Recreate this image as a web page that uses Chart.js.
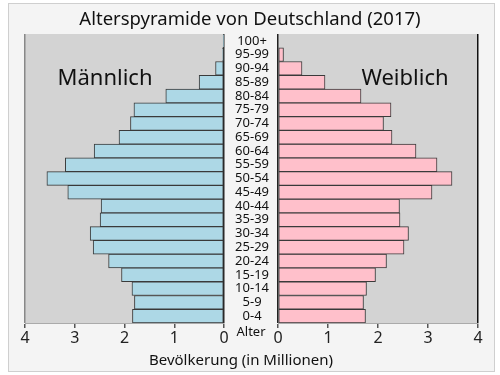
<!DOCTYPE html>
<html lang="de">
<head>
    <meta charset="UTF-8">
    <title>Alterspyramide von Deutschland (2017)</title>
    <script src="https://cdn.jsdelivr.net/npm/chart.js"></script>
    <style>
        body { margin: 0; background: #fff; font-family: "Noto Sans", sans-serif; }
        #wrap { position: relative; width: 500px; height: 375px; overflow: hidden; }
        #frame { position: absolute; left: 8px; top: 3px; width: 485px; height: 367px; background: #f4f4f4; border: 1px solid #cfcfcf; }
        canvas { position: absolute; top: 0; }
        .txt { position: absolute; color: #111; white-space: nowrap; transform: translate(-50%, -50%); }
    </style>
</head>
<body>
<div id="wrap">
    <div id="frame"></div>
    <canvas id="links" width="250" height="375" style="left:0"></canvas>
    <canvas id="rechts" width="276" height="375" style="left:224px"></canvas>
    <div class="txt" style="left:250px; top:17px; font-size:18.5px;">Alterspyramide von Deutschland (2017)</div>
    <div class="txt" style="left:105px; top:76px; font-size:22px;">Männlich</div>
    <div class="txt" style="left:405px; top:76px; font-size:22px;">Weiblich</div>
    <div class="txt" style="left:251px; top:331px; font-size:13px;">Alter</div>
    <div class="txt" style="left:241px; top:359px; font-size:15px;">Bevölkerung (in Millionen)</div>
</div>
<script>
    // Altersgruppen und Bevölkerung in Millionen
    const altersgruppen = ['0-4', '5-9', '10-14', '15-19', '20-24', '25-29', '30-34', '35-39', '40-44', '45-49',
        '50-54', '55-59', '60-64', '65-69', '70-74', '75-79', '80-84', '85-89', '90-94', '95-99', '100+'];
    const maenner = [1.84, 1.80, 1.85, 2.06, 2.32, 2.63, 2.69, 2.49, 2.47, 3.14,
        3.56, 3.19, 2.61, 2.11, 1.88, 1.81, 1.17, 0.50, 0.17, 0.03, 0.004];
    const frauen = [1.75, 1.71, 1.77, 1.95, 2.17, 2.52, 2.61, 2.44, 2.43, 3.08,
        3.48, 3.18, 2.76, 2.28, 2.11, 2.26, 1.66, 0.94, 0.48, 0.11, 0.015];
    const xTicks = [0, 1, 2, 3, 4];

    const hintergrund = {
        id: 'hintergrund',
        beforeDraw(chart) {
            const a = chart.chartArea;
            chart.ctx.save();
            chart.ctx.fillStyle = '#d3d3d3';
            chart.ctx.fillRect(a.left, a.top, a.right - a.left, a.bottom - a.top);
            chart.ctx.restore();
        }
    };

    function xAchse(rev, farbe4) {
        return {
            type: 'linear', min: 0, max: 4, reverse: rev,
            afterBuildTicks: s => { s.ticks = xTicks.map(v => ({ value: v })); },
            afterFit: s => { s.height = 52; },
            ticks: { font: { family: 'Noto Sans', size: 16 }, color: '#222', padding: 1 },
            grid: {
                drawOnChartArea: true, tickLength: 5, tickColor: '#555',
                color: c => c.tick.value === 0 ? '#222' : (c.tick.value === 4 ? farbe4 : 'rgba(0,0,0,0)'),
                lineWidth: 1.5
            },
            border: { display: true, color: '#aaa', width: 1 }
        };
    }

    new Chart(document.getElementById('links'), {
        type: 'bar',
        data: {
            labels: altersgruppen,
            datasets: [{ label: 'Männlich', data: maenner, backgroundColor: '#add8e6', borderColor: '#3a3a3a',
                borderWidth: 1, borderSkipped: false, barPercentage: 1, categoryPercentage: 1 }]
        },
        options: {
            indexAxis: 'y', responsive: false, animation: false,
            layout: { padding: { left: 25, right: 26, top: 34, bottom: 0 } },
            plugins: { legend: { display: false }, tooltip: { enabled: false } },
            scales: {
                x: xAchse(true, '#888'),
                y: { display: false, reverse: true }
            }
        },
        plugins: [hintergrund]
    });

    new Chart(document.getElementById('rechts'), {
        type: 'bar',
        data: {
            labels: altersgruppen,
            datasets: [{ label: 'Weiblich', data: frauen, backgroundColor: '#ffc0cb', borderColor: '#3a3a3a',
                borderWidth: 1, borderSkipped: false, barPercentage: 1, categoryPercentage: 1 }]
        },
        options: {
            indexAxis: 'y', responsive: false, animation: false,
            layout: { padding: { left: 0, right: 22, top: 34, bottom: 0 } },
            plugins: { legend: { display: false }, tooltip: { enabled: false } },
            scales: {
                x: xAchse(false, '#111'),
                y: {
                    reverse: true, position: 'left',
                    afterFit: s => { s.width = 54; },
                    grid: { display: false }, border: { display: false },
                    ticks: { autoSkip: false, crossAlign: 'center', padding: 1, color: '#111',
                        font: { family: 'Noto Sans', size: 13 } }
                }
            }
        },
        plugins: [hintergrund]
    });
</script>
</body>
</html>
